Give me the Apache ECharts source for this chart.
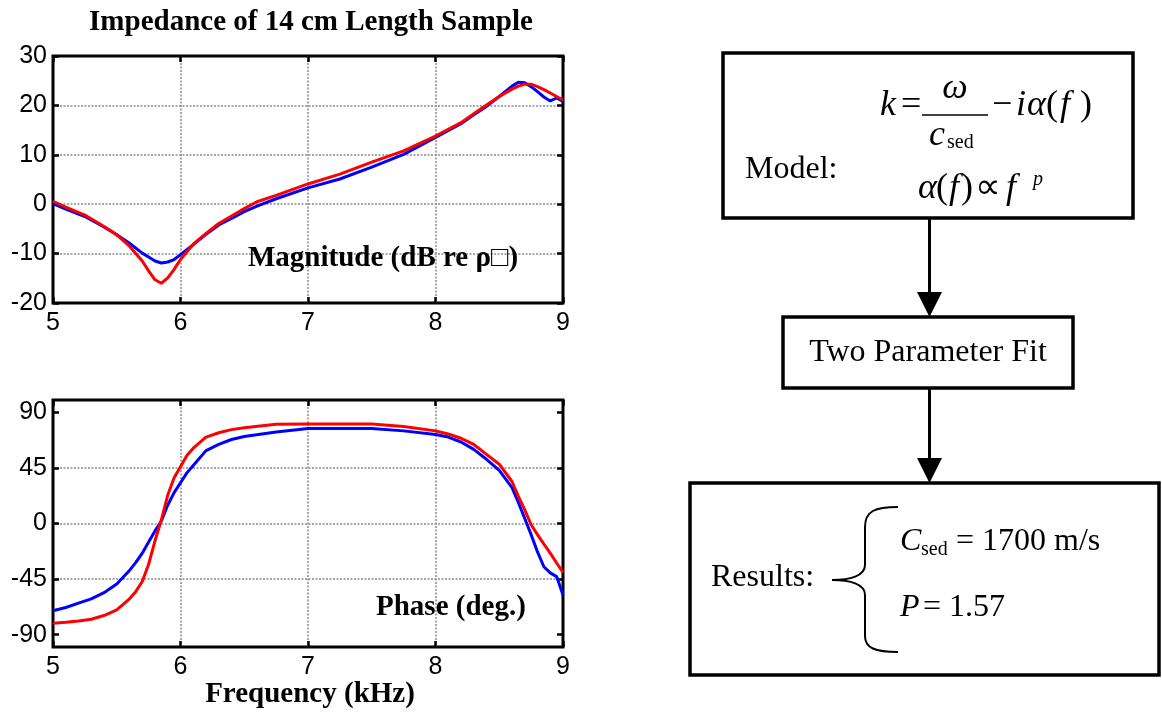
<!DOCTYPE html>
<html><head><meta charset="utf-8">
<script src="https://cdn.jsdelivr.net/npm/echarts@6/dist/echarts.min.js"></script>
<style>html,body{margin:0;padding:0;background:#fff}#c{width:1162px;height:715px}</style>
</head><body><div id="c"></div>
<script>
// ---- data ----
const magFreq = [5.0,5.1,5.25,5.4,5.5,5.6,5.7,5.75,5.8,5.85,5.9,5.95,6.0,6.1,6.2,6.3,6.4,6.5,6.6,6.75,7.0,7.25,7.5,7.75,8.0,8.2,8.3,8.4,8.5,8.6,8.65,8.7,8.75,8.8,8.85,8.9,8.95,9.0];
const magMeasured = [0.1,-1.0,-2.5,-4.6,-6.2,-7.9,-9.9,-10.7,-11.5,-11.9,-11.7,-11.2,-10.2,-8.2,-6.1,-4.2,-2.9,-1.5,-0.4,1.1,3.3,5.1,7.5,10.1,13.5,16.3,18.1,19.8,21.8,23.9,24.7,24.6,23.8,22.8,21.7,20.9,21.5,20.8];
const magModel = [0.6,-0.6,-2.2,-4.5,-6.2,-8.5,-11.5,-13.5,-15.3,-16.0,-14.9,-13.2,-11.2,-8.1,-5.9,-3.9,-2.4,-0.9,0.5,1.8,4.1,6.1,8.5,10.8,13.8,16.5,18.3,20.1,21.8,23.3,23.9,24.3,24.3,23.8,23.2,22.5,21.8,21.1];

const phaseFreq = [5.0,5.1,5.2,5.3,5.4,5.5,5.6,5.65,5.7,5.75,5.8,5.85,5.9,5.95,6.0,6.05,6.1,6.2,6.3,6.4,6.5,6.75,7.0,7.25,7.5,7.75,8.0,8.1,8.2,8.3,8.4,8.5,8.6,8.65,8.7,8.75,8.8,8.85,8.9,8.95,9.0];
const phaseMeasured = [-70.6,-68,-64.5,-61,-56,-49,-38,-31.5,-24,-15,-6,2,15,25,33,41,47,59,64,68,70.5,74,77,77,77,75,72,70,66,60,52,43,29,17,4,-9,-23,-35,-40,-43,-58];
const phaseModel = [-80.8,-80,-79,-77.5,-74.5,-70,-61,-55,-47,-33,-14,3,23,37,46,55,61,70,73.5,76,77.5,80.3,80.5,80.5,80.5,78.5,75,72.5,69,64,56,48,34,22,11,-1,-9,-16.7,-24,-32,-39.6];

const freqTicks = [5,6,7,8,9];
const magTicks = [-20,-10,0,10,20,30];
const phaseTicks = [-90,-45,0,45,90];

const titleText = 'Impedance of 14 cm Length Sample';
const magLabel = 'Magnitude (dB re ρ\u25A1)';
const phaseLabel = 'Phase (deg.)';
const xLabel = 'Frequency (kHz)';

// ---- chart ----
const chart = echarts.init(document.getElementById('c'), null, {renderer:'canvas'});
const tickLabelFont = {fontSize:25, color:'#000', fontFamily:'"Liberation Sans", Arial, sans-serif'};
const gridLine = {show:true, showMinLine:false, showMaxLine:false, lineStyle:{color:'#8a8a8a', type:[2,1.5], width:1.5}};
const tickStyle = {inside:true, length:6, lineStyle:{color:'#000', width:2.5}};

function xAxis(gi, main){
  return {gridIndex:gi, type:'value', min:5, max:9, position: main?'bottom':'top',
    axisLine:{show:false, onZero:false},
    axisTick:Object.assign({customValues:freqTicks}, tickStyle),
    axisLabel:Object.assign({show:main, customValues:freqTicks, margin:8}, tickLabelFont),
    splitLine: main? Object.assign({}, gridLine) : {show:false}};
}
function yAxis(gi, main, mn, mx, ticks){
  return {gridIndex:gi, type:'value', min:mn, max:mx, position: main?'left':'right',
    axisLine:{show:false, onZero:false},
    axisTick:Object.assign({customValues:ticks}, tickStyle),
    axisLabel:Object.assign({show:main, customValues:ticks, margin:6}, tickLabelFont),
    splitLine: main? Object.assign({}, gridLine) : {show:false}};
}

function pairs(xs, ys){ return xs.map((x,i)=>[x, ys[i]]); }

const serif = '"Liberation Serif", "Times New Roman", serif';
function txt(x, y, text, font, align){
  return {type:'text', x:x, y:y, z:100, style:{text:text, font:font, fill:'#000', textAlign:align||'left', textVerticalAlign:'middle'}};
}
function line(x1,y1,x2,y2,w){
  return {type:'line', z:100, shape:{x1,y1,x2,y2}, style:{stroke:'#000', lineWidth:w||3}};
}
function rect(x,y,w,h){
  return {type:'rect', z:90, shape:{x,y,width:w,height:h}, style:{fill:'#fff', stroke:'#000', lineWidth:3.5}};
}
function tri(cx, yTop, yTip){
  return {type:'polygon', z:100, shape:{points:[[cx-12.5,yTop],[cx+12.5,yTop],[cx,yTip]]}, style:{fill:'#000'}};
}
function bez(x1,y1,c1x,c1y,c2x,c2y,x2,y2){
  return {type:'bezierCurve', z:100, shape:{x1,y1,x2,y2,cpx1:c1x,cpy1:c1y,cpx2:c2x,cpy2:c2y}, style:{stroke:'#000', lineWidth:2, fill:null}};
}

const mi = 'italic 36px ' + serif;
const mn = '36px ' + serif;
const n32 = '32px ' + serif;
const sub = '20px ' + serif;

chart.setOption({
  animation:false,
  backgroundColor:'#fff',
  grid:[
    {left:53, top:56, width:510, height:247, show:true, borderColor:'#000', borderWidth:3, backgroundColor:'transparent'},
    {left:53, top:400, width:510, height:247, show:true, borderColor:'#000', borderWidth:3, backgroundColor:'transparent'}
  ],
  xAxis:[xAxis(0,true), xAxis(0,false), xAxis(1,true), xAxis(1,false)],
  yAxis:[yAxis(0,true,-20,30,magTicks), yAxis(0,false,-20,30,magTicks), yAxis(1,true,-100,100,phaseTicks), yAxis(1,false,-100,100,phaseTicks)],
  series:[
    {type:'line', xAxisIndex:0, yAxisIndex:0, data:pairs(magFreq, magMeasured), showSymbol:false, lineStyle:{color:'#0000ff', width:3}, z:3},
    {type:'line', xAxisIndex:0, yAxisIndex:0, data:pairs(magFreq, magModel), showSymbol:false, lineStyle:{color:'#ff0000', width:3}, z:4},
    {type:'line', xAxisIndex:2, yAxisIndex:2, data:pairs(phaseFreq, phaseMeasured), showSymbol:false, lineStyle:{color:'#0000ff', width:3}, z:3},
    {type:'line', xAxisIndex:2, yAxisIndex:2, data:pairs(phaseFreq, phaseModel), showSymbol:false, lineStyle:{color:'#ff0000', width:3}, z:4}
  ],
  graphic:[
    txt(311, 23, titleText, 'bold 29px ' + serif, 'center'),
    txt(248, 259, magLabel, 'bold 29px ' + serif),
    txt(376, 608, phaseLabel, 'bold 29px ' + serif),
    txt(310, 695, xLabel, 'bold 29px ' + serif, 'center'),

    // Model box
    rect(723, 53, 410, 165),
    txt(745, 170, 'Model:', n32),
    txt(880, 106, 'k', mi),
    txt(901, 106, '=', mn),
    line(922, 115, 988, 115, 1.5),
    txt(955, 89, 'ω', mi, 'center'),
    txt(929, 136, 'c', mi),
    txt(947, 143, 'sed', sub),
    txt(992, 106, '−', mn),
    txt(1016, 106, 'i', mi),
    txt(1027, 106, 'α', mi),
    txt(1046, 106, '(', mn),
    txt(1060, 106, 'f', mi),
    txt(1080, 106, ')', mn),
    txt(918, 189, 'α', mi),
    txt(936, 189, '(', mn),
    txt(949, 189, 'f', mi),
    txt(961, 189, ')', mn),
    txt(975, 189, '∝', mn),
    txt(1006, 189, 'f', mi),
    txt(1033, 180, 'p', 'italic 20px ' + serif),

    // arrow 1
    line(929.5, 218, 929.5, 294, 3),
    tri(929.5, 292, 317),

    // Two parameter fit
    rect(783, 317, 290, 71),
    txt(928, 353, 'Two Parameter Fit', n32, 'center'),

    // arrow 2
    line(929.5, 388, 929.5, 460, 3),
    tri(929.5, 458, 483),

    // Results box
    rect(690, 483, 469, 192),
    txt(711, 578, 'Results:', n32),
    bez(898,507, 875,507, 865,511, 865,527),
    line(865,527,865,565,2),
    bez(865,565, 865,576, 850,580, 832,580),
    bez(832,580, 850,580, 865,584, 865,595),
    line(865,595,865,636,2),
    bez(865,636, 865,648, 875,652, 898,652),
    txt(900, 542, 'C', 'italic 32px ' + serif),
    txt(921, 550, 'sed', sub),
    txt(956, 542, '= 1700 m/s', n32),
    txt(900, 608, 'P', 'italic 32px ' + serif),
    txt(923, 608, '= 1.57', n32)
  ]
});
</script>
</body></html>
